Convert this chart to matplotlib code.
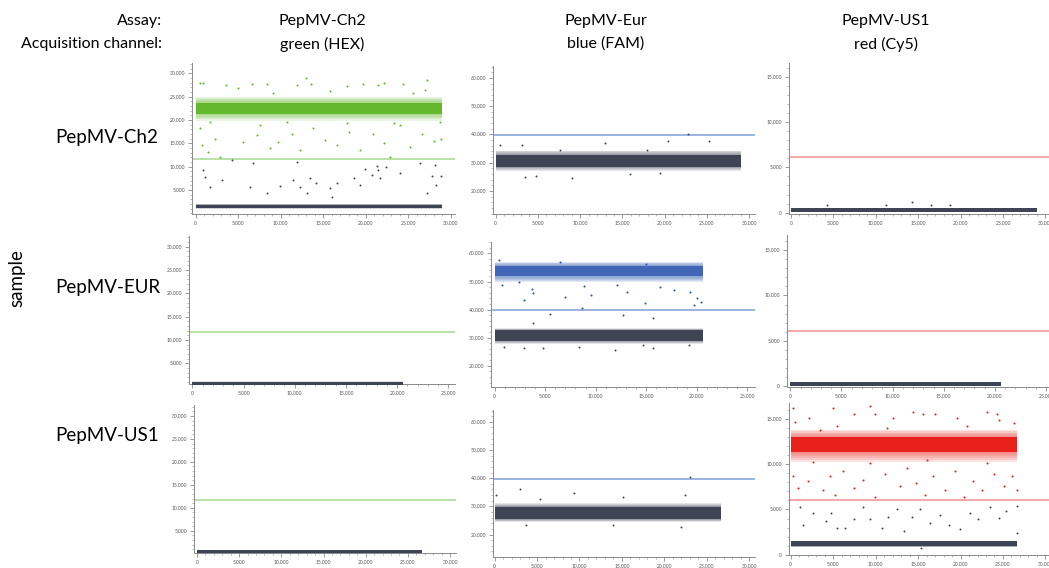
import numpy as np
import matplotlib
matplotlib.use("Agg")
import matplotlib.pyplot as plt
from matplotlib.ticker import FuncFormatter, MultipleLocator

plt.rcParams['font.family'] = ['Lato', 'DejaVu Sans']

# ---- data ----
assays = ["PepMV-Ch2", "PepMV-Eur", "PepMV-US1"]
channels = ["green (HEX)", "blue (FAM)", "red (Cy5)"]
samples = ["PepMV-Ch2", "PepMV-EUR", "PepMV-US1"]
thresholds = [11700, 39700, 6100]            # per channel
droplets = [29000, 20600, 26700]             # accepted droplets per sample (x extent)

# cluster summaries per [sample][channel]: (center, core half-width, halo low, halo high)
neg_clusters = [
    [(1500, 330, 1000, 2000), (30600, 2100, 27200, 34300), (300, 170, 80, 550)],
    [(700, 320, 350, 1100), (30750, 1850, 27800, 33400), (250, 190, 50, 500)],
    [(500, 270, 200, 850), (27600, 2100, 24500, 31300), (1200, 270, 850, 1550)],
]
pos_clusters = {
    (0, 0): (22500, 1200, 19800, 25000),
    (1, 1): (53700, 1900, 49800, 57000),
    (2, 2): (12200, 800, 10200, 13800),
}

# scattered droplets (x in droplet index, y in amplitude)
pos_out_x = {
    (0, 0): [500, 900, 3600, 5000, 6600, 8400, 9100, 11900, 13000, 13600, 15800, 17800, 19700,
             21500, 22200, 24400, 27000, 27200, 25600, 500, 700, 1500, 2900, 2300, 5600, 7200,
             8800, 9700, 11300, 12300, 13800, 15200, 16600, 18000, 19300, 20900, 22100, 22900,
             24000, 25200, 26600, 28000, 28900, 28700, 1700, 7600, 10700, 17800, 23300],
    (1, 1): [400, 700, 2400, 2900, 3700, 3800, 7000, 8600, 8800, 9500, 12100, 13100, 14900,
             16400, 17700, 19300, 19700, 20000, 20400, 6500, 15000],
    (2, 2): [300, 500, 2200, 5000, 7400, 9300, 9900, 12100, 14400, 15600, 17000, 19600, 23100,
             24300, 24500, 26300, 5400, 11300, 20800, 3400, 300, 900, 2000, 3800, 4600, 5200,
             6200, 7400, 8500, 9900, 11100, 12900, 13700, 14800, 15800, 16800, 18200, 19400,
             20400, 21500, 22500, 23900, 25100, 26100, 26700, 2600, 9300, 16000, 23100],
}
pos_out_y = {
    (0, 0): [28000, 28000, 27500, 26900, 27800, 27800, 25700, 27500, 28900, 27600, 26300, 27300,
             27800, 27500, 28000, 27700, 26500, 28600, 25700, 18200, 14600, 13200, 12100, 16000,
             15300, 16800, 14000, 15300, 17100, 13600, 18200, 15700, 14600, 17500, 13600, 17100,
             15000, 12100, 18900, 14300, 17100, 15400, 16000, 19600, 19600, 18900, 19600, 19300,
             19300],
    (1, 1): [57600, 48700, 49900, 43400, 47500, 45800, 44600, 40400, 48300, 45200, 48700, 46300,
             42200, 48100, 46900, 46300, 41600, 44000, 42800, 57000, 56400],
    (2, 2): [16200, 14700, 15100, 16200, 15500, 16400, 15500, 15100, 15800, 15600, 15500, 15100,
             15800, 15500, 14900, 14600, 14200, 14000, 14200, 13800, 8700, 7400, 8100, 7200, 8700,
             6600, 9200, 7400, 8300, 6400, 8900, 7600, 9600, 7900, 6600, 8700, 7200, 9200, 6400,
             8100, 7200, 8900, 7600, 8700, 7200, 10300, 10100, 10500, 10100],
}
neg_out_x = {
    (0, 0): [900, 1100, 1700, 3100, 4300, 6400, 6800, 8400, 9900, 11900, 11500, 12300, 13100,
             13500, 14200, 15800, 16000, 16600, 18600, 19300, 19900, 20700, 21300, 21500, 21700,
             22400, 24000, 26400, 27200, 27800, 28300, 28900, 28200],
    (0, 1): [500, 3100, 12900, 20400, 25300, 22800, 7600, 17900, 3500, 4800, 9000, 15900, 19400],
    (0, 2): [4300, 11200, 14300, 16500, 18800],
    (1, 1): [900, 2900, 4800, 8300, 11900, 14700, 15700, 19200, 3800, 15700, 12700, 5500],
    (2, 1): [200, 3000, 9400, 15100, 22400, 23000, 5300, 22000, 14000, 3700],
    (2, 2): [1100, 1500, 2600, 4200, 4800, 5400, 6400, 7400, 8500, 9300, 10700, 11500, 12500,
             13300, 14300, 15200, 15400, 16400, 17600, 18600, 19900, 21100, 22100, 23500, 24500,
             25300, 26700, 26700],
}
neg_out_y = {
    (0, 0): [9300, 7700, 5700, 7100, 11400, 5600, 10700, 4300, 5900, 11000, 7100, 5700, 4300,
             7500, 6400, 5400, 3600, 6600, 7500, 6100, 9600, 8200, 10100, 9300, 7500, 10000, 8600,
             10700, 4300, 7900, 6100, 7900, 10400],
    (0, 1): [36100, 36300, 36900, 37500, 37500, 40200, 34600, 34600, 25100, 25300, 24500, 25900,
             26300],
    (0, 2): [900, 800, 1200, 800, 800],
    (1, 1): [26800, 26200, 26200, 26800, 25600, 27400, 26200, 27400, 35100, 36900, 38000, 38600],
    (2, 1): [34000, 36000, 34800, 33400, 34200, 40500, 32600, 22700, 23300, 23500],
    (2, 2): [5300, 3300, 4600, 3700, 4600, 2900, 2900, 3900, 5300, 3900, 2900, 4200, 5000, 2600,
             4200, 5000, 700, 3500, 4400, 3300, 2800, 4600, 3900, 5300, 4100, 4800, 5400, 2400],
}

# ---- styling ----
dot_colors = ["#63b92b", "#2d55b0", "#e8211d"]
thr_colors = ["#b9e2a6", "#9db3df", "#f5a9a9"]
neg_color = "#3f4454"

W, H = 1049, 568
# axes boxes in pixels (left, top, right, bottom) and limits
boxes = [
    [(192, 63, 455, 214), (493, 66, 755, 214), (789, 63, 1062, 214)],
    [(189, 236, 455, 384), (491, 242, 755, 387), (787, 235, 1062, 387)],
    [(194, 405, 456, 553), (493, 410, 755, 557), (789, 403, 1062, 555)],
]
xlims = [
    [(-430, 30500), (-320, 30700), (-236, 31950)],
    [(-322, 25650), (-356, 25760), (-324, 26560)],
    [(-356, 30700), (-200, 30700), (-200, 31950)],
]
ylims = [
    [(-140, 32200), (11860, 64200), (-143, 16500)],
    [(560, 32300), (12400, 64100), (-77, 16650)],
    [(150, 32400), (12040, 64200), (-33, 16770)],
]
yticks = [np.arange(5000, 30001, 5000), np.arange(20000, 60001, 10000), np.arange(0, 15001, 5000)]
yminor = [1000, 2000, 1000]

fmt = FuncFormatter(lambda v, p: f"{int(round(v)):,}".replace(",", "."))

fig = plt.figure(figsize=(W / 100, H / 100), dpi=100)


def draw_band(ax, n, cl, color, core_alpha=1.0):
    # soft-edged droplet cloud: halo fades toward the dense core
    c, hw, lo, hi = cl
    steps = 5
    for k in range(steps):
        f = k / steps
        y0 = lo + (c - hw - lo) * f
        y1 = hi - (hi - c - hw) * f
        ax.fill_between([0, n], [y0, y0], [y1, y1], color=color, alpha=0.13,
                        lw=0, zorder=2)
    ax.fill_between([0, n], [c - hw, c - hw], [c + hw, c + hw], color=color,
                    alpha=core_alpha, lw=0, zorder=3)


for r in range(3):
    for c in range(3):
        l, t, rt, b = boxes[r][c]
        ax = fig.add_axes([l / W, 1 - b / H, (rt - l) / W, (b - t) / H])
        ax.set_xlim(*xlims[r][c])
        ax.set_ylim(*ylims[r][c])
        n = droplets[r]

        ax.axhline(thresholds[c], color=thr_colors[c], lw=1.4, zorder=1)
        draw_band(ax, n, neg_clusters[r][c], neg_color)
        if (r, c) in neg_out_x:
            ax.scatter(neg_out_x[(r, c)], neg_out_y[(r, c)], s=2, color=neg_color, lw=0, zorder=4)
        if (r, c) in pos_clusters:
            draw_band(ax, n, pos_clusters[(r, c)], dot_colors[c], 0.8 if c == 1 else 1.0)
            ax.scatter(pos_out_x[(r, c)], pos_out_y[(r, c)], s=2.2, color=dot_colors[c], lw=0, zorder=4)

        xmax = 30000 if r != 1 else 25000
        ax.set_xticks(np.arange(0, xmax + 1, 5000))
        ax.xaxis.set_minor_locator(MultipleLocator(1000))
        ax.set_yticks(yticks[c])
        ax.yaxis.set_minor_locator(MultipleLocator(yminor[c]))
        ax.xaxis.set_major_formatter(fmt)
        ax.yaxis.set_major_formatter(fmt)
        for s in ["top", "right"]:
            ax.spines[s].set_visible(False)
        for s in ["left", "bottom"]:
            ax.spines[s].set_color("#8a8a8a")
            ax.spines[s].set_linewidth(0.7)
        ax.tick_params(which="major", length=3, width=0.6, color="#8a8a8a",
                       labelsize=3.6, labelcolor="#555555", pad=2)
        ax.tick_params(which="minor", length=1.6, width=0.5, color="#9a9a9a")
        ax.patch.set_alpha(0)

# ---- header and row labels ----
fig.text(162 / W, 1 - 21 / H, "Assay:", ha="right", va="center", fontsize=11.5)
fig.text(162 / W, 1 - 44 / H, "Acquisition channel:", ha="right", va="center", fontsize=11.5)
for cx, a, ch in zip([322, 606, 886], assays, channels):
    fig.text(cx / W, 1 - 21 / H, a, ha="center", va="center", fontsize=11.5)
    fig.text(cx / W, 1 - 44 / H, ch, ha="center", va="center", fontsize=11.5)

for cy, s in zip([137, 287, 436], samples):
    fig.text(55 / W, 1 - cy / H, s, ha="left", va="center", fontsize=13.5)
fig.text(17 / W, 1 - 278 / H, "sample", ha="center", va="center", rotation=90, fontsize=13.5)

fig.savefig("out.png", dpi=100)
